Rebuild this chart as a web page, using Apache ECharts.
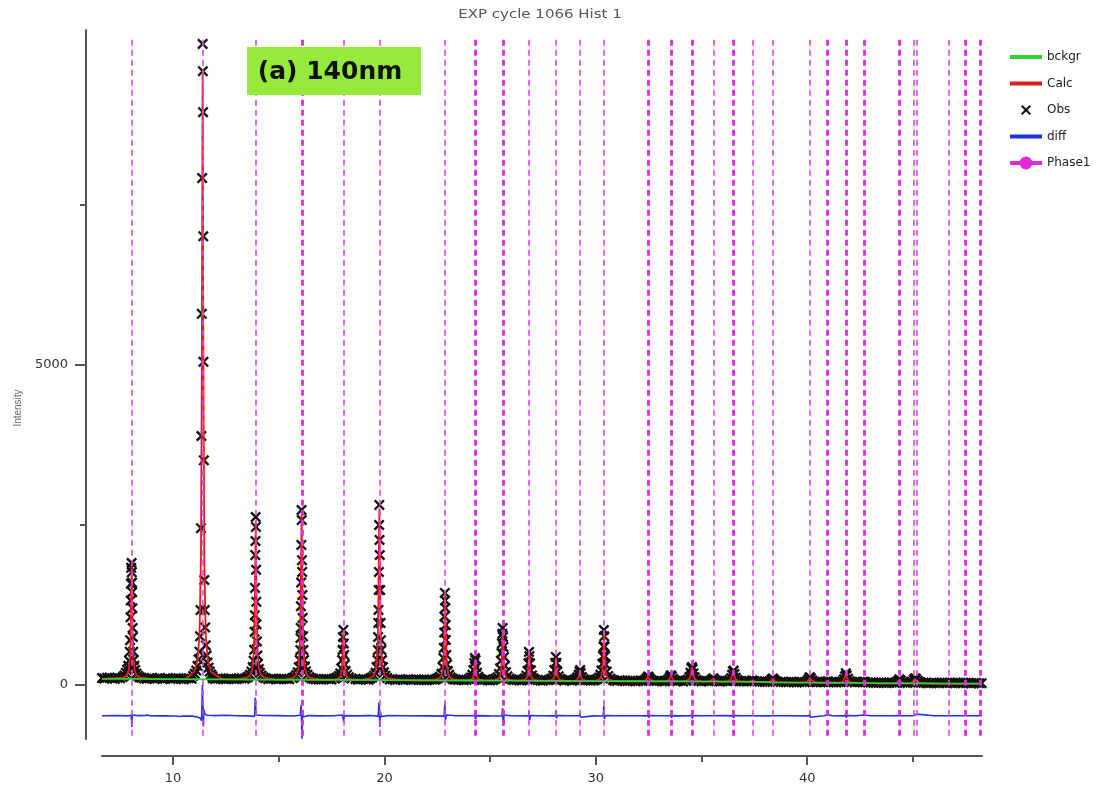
<!DOCTYPE html>
<html><head><meta charset="utf-8">
<script src="https://cdn.jsdelivr.net/npm/echarts@6/dist/echarts.min.js"></script>
<style>html,body{margin:0;padding:0;background:#fff}#c{width:1107px;height:789px}</style>
</head><body><div id="c"></div>
<script>
// ---------------- DATA ----------------
const titleText = 'EXP cycle 1066 Hist 1';
const yAxisTitle = 'Intensity';
const annotationText = '(a) 140nm';
const seriesNames = ['bckgr', 'Calc', 'Obs', 'diff', 'Phase1'];

const xMajorTicks = [10, 20, 30, 40];
const xMinorTicks = [15, 25, 35, 45];
const yMajorTicks = [0, 5000];
const yMinorTicks = [2500, 7500];

// observed points between the peaks  [2theta, counts]
const obsBaseline = [
[6.64,108],[6.75,100],[6.88,113],[7.0,115],[7.13,102],[7.25,97],[7.38,110],[7.5,105],
[8.63,101],[8.75,94],[8.88,106],[9.0,111],[9.13,96],[9.25,101],[9.38,109],[9.5,93],[9.63,100],[9.75,108],[9.88,95],[10.0,98],[10.13,107],[10.25,104],[10.38,94],[10.5,91],[10.63,101],[10.75,105],[10.88,99],
[11.88,104],[12.0,94],[12.13,100],[12.25,103],[12.38,92],[12.5,90],[12.63,99],[12.75,101],[12.88,93],[13.0,92],[13.13,100],[13.25,104],[13.38,96],
[14.5,91],[14.63,97],[14.75,100],[14.88,89],[15.0,88],[15.13,96],[15.25,99],[15.38,93],[15.5,90],
[16.63,97],[16.75,91],[16.88,87],[17.0,84],[17.13,92],[17.25,96],[17.38,90],[17.5,86],
[18.63,92],[18.75,83],[18.88,88],[19.0,93],[19.13,86],[19.25,81],
[20.25,86],[20.38,91],[20.5,78],[20.63,84],[20.75,90],[20.88,80],[21.0,83],[21.13,89],[21.25,77],[21.38,82],[21.5,88],[21.63,84],[21.75,79],[21.88,76],[22.0,75],[22.13,83],[22.25,86],[22.38,80],
[23.38,84],[23.5,77],[23.63,81],[23.75,74],[23.88,80],
[24.63,77],[24.75,82],[24.88,73],[25.0,72],[25.13,78],
[26.13,76],[26.25,79],[26.38,71],[26.5,70],
[27.25,77],[27.38,69],[27.5,68],[27.63,76],[27.75,74],
[28.5,67],[28.63,76],[28.75,73],[28.88,68],
[29.63,73],[29.75,66],[29.88,70],
[30.88,67],[31.0,64],[31.13,73],[31.25,70],[31.38,62],[31.5,61],[31.63,68],[31.75,69],[31.88,59],[32.0,60],[32.13,66],
[32.88,63],[33.0,66],[33.13,57],[33.25,60],
[33.88,61],[34.0,65],[34.13,56],
[35.0,56],[35.13,61],[35.25,64],
[35.88,54],[36.0,57],[36.13,62],
[36.88,58],[37.0,53],[37.13,57],[37.25,62],[37.38,66],[37.5,64],[37.63,58],[37.75,52],[37.88,52],[38.0,48],
[38.75,47],[38.88,52],[39.0,42],[39.13,46],[39.25,51],[39.38,45],[39.5,40],[39.63,47],[39.75,48],
[40.5,45],[40.63,41],[40.75,48],[40.88,52],[41.0,54],[41.13,47],[41.25,42],[41.38,39],[41.5,47],
[42.25,40],[42.38,45],[42.5,48],[42.63,49],[42.75,44],[42.88,39],[43.0,39],[43.13,35],[43.25,32],[43.38,36],[43.5,40],[43.63,33],[43.75,30],[43.88,35],[44.0,38],[44.13,34],[44.25,40],
[44.63,36],[44.75,31],[44.88,38],[45.38,37],[45.5,34],[45.63,29],[45.75,28],[45.88,33],[46.0,37],[46.13,31],[46.25,27],[46.38,32],[46.5,33],[46.63,35],[46.75,38],[46.88,31],[47.0,26],[47.13,30],[47.25,32],[47.38,37],[47.5,34],[47.63,30],[47.75,25],[47.88,29],[48.0,33],[48.13,28],[48.25,29]
];

// observed points on the Bragg peaks  [2theta, counts]
const obsPeakPoints = [
[7.62,125],[7.70,150],[7.77,190],[7.83,240],[7.88,300],[7.92,380],[7.95,520],[7.97,700],[7.99,1060],[8.00,1320],[8.01,1580],[8.02,1830],[8.04,1906],[8.05,1760],[8.06,1600],[8.07,1450],[8.08,1200],[8.09,890],[8.10,750],[8.12,520],[8.14,390],[8.17,300],[8.21,235],[8.27,180],[8.34,145],[8.42,122],[8.50,112],
[10.95,140],[11.03,175],[11.10,225],[11.16,300],[11.21,400],[11.25,520],[11.28,760],[11.30,1170],[11.32,2450],[11.34,3890],[11.36,5800],[11.38,7920],[11.40,10016],[11.41,9590],[11.42,8950],[11.43,7010],[11.44,5050],[11.46,3510],[11.48,1640],[11.50,1170],[11.52,900],[11.55,620],[11.59,460],[11.63,350],[11.68,270],[11.74,210],[11.80,165],[11.86,135],
[13.48,112],[13.56,130],[13.64,160],[13.71,210],[13.77,280],[13.81,380],[13.84,550],[13.86,830],[13.87,1090],[13.88,1516],[13.89,2030],[13.90,2250],[13.91,2625],[13.92,2469],[13.93,1800],[13.94,1300],[13.95,950],[13.97,680],[13.99,460],[14.02,330],[14.06,250],[14.11,190],[14.18,150],[14.27,122],[14.37,106],
[15.66,108],[15.75,125],[15.83,155],[15.90,200],[15.95,280],[15.99,390],[16.02,547],[16.03,734],[16.04,891],[16.05,1230],[16.06,1600],[16.07,2188],[16.08,2734],[16.09,2578],[16.10,1950],[16.11,1766],[16.12,1406],[16.13,1047],[16.15,760],[16.17,547],[16.20,390],[16.24,290],[16.29,215],[16.36,160],[16.45,125],[16.54,105],
[17.65,100],[17.75,115],[17.84,140],[17.91,180],[17.96,260],[18.00,390],[18.02,547],[18.04,750],[18.06,860],[18.08,650],[18.10,470],[18.13,320],[18.17,220],[18.23,160],[18.32,120],[18.44,100],
[19.33,100],[19.42,118],[19.51,145],[19.58,190],[19.63,280],[19.67,390],[19.69,547],[19.70,750],[19.71,969],[19.72,1172],[19.73,1484],[19.74,1766],[19.75,2500],[19.76,2813],[19.77,2266],[19.78,2031],[19.80,1484],[19.82,969],[19.84,700],[19.86,547],[19.89,390],[19.93,280],[19.98,200],[20.05,145],[20.13,110],
[22.45,92],[22.54,106],[22.63,130],[22.70,175],[22.75,281],[22.79,420],[22.81,580],[22.83,820],[22.84,1070],[22.86,1438],[22.87,1320],[22.88,1203],[22.90,938],[22.91,703],[22.93,469],[22.96,320],[23.00,220],[23.06,160],[23.13,120],[23.22,98],[23.30,86],
[24.00,92],[24.09,115],[24.16,160],[24.21,234],[24.25,344],[24.28,420],[24.31,390],[24.34,280],[24.38,190],[24.44,130],[24.51,100],[24.58,86],
[25.17,84],[25.26,98],[25.35,120],[25.42,170],[25.47,260],[25.51,380],[25.54,500],[25.56,650],[25.58,800],[25.59,891],[25.61,750],[25.63,594],[25.66,438],[25.70,300],[25.75,200],[25.82,135],[25.92,100],[26.03,84],
[26.57,86],[26.65,104],[26.72,145],[26.77,220],[26.81,340],[26.84,516],[26.86,450],[26.89,340],[26.93,230],[26.98,150],[27.05,105],[27.13,86],
[27.84,84],[27.92,102],[27.99,145],[28.04,234],[28.08,344],[28.11,438],[28.14,344],[28.18,210],[28.24,135],[28.32,96],[28.41,80],
[28.97,76],[29.06,92],[29.13,120],[29.19,160],[29.23,210],[29.26,234],[29.29,185],[29.34,125],[29.42,92],[29.52,76],
[29.96,76],[30.06,90],[30.15,115],[30.22,160],[30.27,230],[30.31,330],[30.34,450],[30.36,600],[30.38,859],[30.40,760],[30.42,600],[30.44,450],[30.47,320],[30.52,210],[30.59,140],[30.69,100],[30.81,78],
[32.22,66],[32.32,76],[32.40,98],[32.45,120],[32.48,132],[32.51,118],[32.57,92],[32.66,72],[32.76,64],
[33.30,64],[33.40,78],[33.48,108],[33.53,140],[33.56,152],[33.59,138],[33.65,98],[33.74,74],[33.84,62],
[34.27,68],[34.36,86],[34.43,125],[34.48,190],[34.52,262],[34.55,281],[34.58,250],[34.62,180],[34.68,120],[34.76,82],[34.86,64],
[35.34,60],[35.44,72],[35.51,90],[35.56,104],[35.61,88],[35.70,68],[35.80,58],
[36.22,62],[36.32,76],[36.40,106],[36.45,160],[36.49,212],[36.52,225],[36.56,170],[36.62,112],[36.70,78],[36.80,60],
[37.42,70],
[38.12,52],[38.22,60],[38.30,78],[38.35,95],[38.38,100],[38.42,86],[38.50,64],[38.60,50],
[39.88,44],[39.98,56],[40.05,80],[40.10,110],[40.13,122],[40.17,102],[40.24,72],[40.33,52],[40.43,44],
[40.97,56],
[41.58,46],[41.67,58],[41.74,88],[41.79,135],[41.83,182],[41.87,150],[41.93,98],[42.01,62],[42.10,46],
[42.69,50],
[44.20,42],[44.30,64],[44.36,88],[44.42,72],[44.52,46],
[44.95,52],[45.04,82],[45.10,105],[45.16,92],[45.24,62],[45.34,44]
];

// fitted background (green)
const bkgr = [
[6.64,96],[8,94],[10,91],[12,88],[14,85],[16,82],[18,79],[20,76],[22,73],[24,70],[26,67],[28,64],[30,61],[32,58],[34,55],[36,52],[37.8,48],[38.4,40],[40,37],[42,34],[42.8,32],[43.4,26],[45,24],[47,22],[48.27,21]
];

// calculated profile (red)
const calc = [
[6.64,96],
[7.65,115],[7.80,147],[7.90,219],[7.97,450],[8.01,984],[8.04,1874],[8.08,984],[8.12,450],[8.19,219],[8.29,147],[8.45,115],
[9.0,96],[10.0,93],[10.6,98],
[11.00,203],[11.15,374],[11.25,754],[11.32,1989],[11.36,4839],[11.40,9589],[11.44,4839],[11.48,1989],[11.55,754],[11.65,374],[11.80,203],
[12.3,92],[13.0,89],
[13.51,116],[13.66,160],[13.76,260],[13.83,582],[13.87,1326],[13.91,2566],[13.95,1326],[13.99,582],[14.06,260],[14.16,160],[14.31,116],
[14.8,86],[15.3,85],
[15.68,112],[15.83,159],[15.93,263],[16.00,601],[16.04,1381],[16.08,2681],[16.12,1381],[16.16,601],[16.23,263],[16.33,159],[16.48,112],
[17.0,83],[17.4,82],
[17.66,87],[17.81,101],[17.91,131],[17.98,230],[18.02,458],[18.06,838],[18.10,458],[18.14,230],[18.21,131],[18.31,101],[18.46,87],
[18.9,79],
[19.36,108],[19.51,156],[19.61,264],[19.68,612],[19.72,1416],[19.76,2756],[19.80,1416],[19.84,612],[19.91,264],[20.01,156],[20.16,108],
[20.8,76],[21.5,74],[22.1,74],
[22.47,87],[22.62,111],[22.72,164],[22.79,337],[22.83,736],[22.87,1401],[22.91,736],[22.95,337],[23.02,164],[23.12,111],[23.27,87],
[23.6,71],
[23.89,73],[24.04,79],[24.14,93],[24.21,137],[24.25,239],[24.29,409],[24.33,239],[24.37,137],[24.44,93],[24.54,79],[24.69,73],
[24.95,69],
[25.20,77],[25.35,91],[25.45,123],[25.52,227],[25.56,467],[25.60,867],[25.64,467],[25.68,227],[25.75,123],[25.85,91],[26.00,77],
[26.3,67],
[26.45,70],[26.60,78],[26.70,96],[26.77,153],[26.81,285],[26.85,505],[26.89,285],[26.93,153],[27.00,96],[27.10,78],[27.25,70],
[27.45,65],
[27.72,67],[27.87,74],[27.97,88],[28.04,135],[28.08,243],[28.12,423],[28.16,243],[28.20,135],[28.27,88],[28.37,74],[28.52,67],
[28.7,63],
[28.85,64],[29.00,67],[29.10,73],[29.17,94],[29.21,142],[29.25,222],[29.29,142],[29.33,94],[29.40,73],[29.50,67],[29.65,64],
[29.8,62],
[29.99,69],[30.14,83],[30.24,115],[30.31,216],[30.35,450],[30.39,840],[30.43,450],[30.47,216],[30.54,115],[30.64,83],[30.79,69],
[31.2,60],[32.0,58],
[32.23,61],[32.36,72],[32.43,98],[32.48,132],[32.53,98],[32.60,72],[32.73,61],
[33.1,57],
[33.31,61],[33.44,75],[33.51,108],[33.56,151],[33.61,108],[33.68,75],[33.81,61],
[34.05,55],
[34.30,66],[34.43,100],[34.50,181],[34.55,284],[34.60,181],[34.67,100],[34.80,66],
[35.1,54],
[35.31,56],[35.44,63],[35.51,81],[35.56,103],[35.61,81],[35.68,63],[35.81,56],
[36.05,52],
[36.25,61],[36.38,87],[36.45,148],[36.50,227],[36.55,148],[36.62,87],[36.75,61],
[37.1,51],
[37.30,52],[37.37,62],[37.42,72],[37.47,62],[37.54,52],
[37.8,48],[38.05,44],
[38.12,44],[38.25,53],[38.32,73],[38.37,99],[38.42,73],[38.49,52],[38.62,43],
[39.0,40],[39.7,38],
[39.88,41],[40.01,53],[40.08,82],[40.13,119],[40.18,82],[40.25,53],[40.38,41],
[40.7,36],
[40.85,37],[40.92,45],[40.97,54],[41.02,45],[41.09,37],
[41.4,35],
[41.58,41],[41.71,63],[41.78,114],[41.83,179],[41.88,114],[41.95,63],[42.08,41],
[42.35,33],
[42.57,34],[42.64,41],[42.69,48],[42.74,41],[42.81,33],
[43.4,26],[44.0,25],
[44.11,28],[44.24,37],[44.31,58],[44.36,85],[44.41,58],[44.48,37],[44.61,28],
[44.75,25],
[44.85,28],[44.98,39],[45.05,65],[45.10,99],[45.15,65],[45.22,39],[45.35,28],
[46.0,23],[47.0,22],[48.27,21]
];

// difference curve (obs - calc, plotted with its offset)
const diff = [
[6.64,-480],[7.3,-476],[7.9,-482],[8.02,-472],[8.04,-560],[8.05,-656],[8.07,-470],[8.10,-466],[8.3,-478],[8.7,-476],[8.8,-468],[8.9,-480],[9.5,-482],[10.1,-484],[10.3,-492],[10.5,-484],[10.9,-486],
[11.15,-500],[11.30,-520],[11.35,-560],[11.37,-300],[11.39,0],[11.40,-200],[11.42,-300],[11.44,-650],[11.46,-380],[11.50,-450],[11.6,-472],[11.9,-478],[12.5,-474],[13.0,-480],[13.5,-482],
[13.86,-490],[13.89,-200],[13.91,-340],[13.94,-470],[14.2,-476],[15.0,-478],[15.7,-484],
[16.02,-472],[16.06,-310],[16.08,-540],[16.10,-840],[16.12,-420],[16.16,-500],[16.4,-478],[17.0,-482],[17.6,-480],
[18.03,-470],[18.05,-440],[18.07,-575],[18.10,-478],[18.6,-482],[19.3,-478],
[19.71,-486],[19.74,-280],[19.76,-360],[19.78,-656],[19.81,-430],[19.86,-495],[20.2,-478],[21.0,-480],[22.0,-482],
[22.82,-486],[22.86,-280],[22.89,-547],[22.93,-468],[23.3,-478],[24.0,-480],
[24.26,-476],[24.28,-420],[24.31,-535],[24.35,-478],[25.0,-482],
[25.56,-484],[25.59,-360],[25.62,-640],[25.66,-468],[26.0,-480],
[26.82,-482],[26.84,-390],[26.87,-550],[26.91,-478],[27.4,-480],
[28.09,-482],[28.11,-390],[28.14,-520],[28.18,-478],[28.8,-480],
[29.23,-478],[29.25,-440],[29.28,-505],[29.32,-480],[29.9,-482],
[30.35,-484],[30.38,-328],[30.41,-530],[30.45,-476],[31.0,-480],[32.0,-480],
[32.45,-482],[32.47,-445],[32.50,-510],[32.54,-478],[33.0,-480],
[33.53,-480],[33.55,-440],[33.58,-515],[33.62,-478],[34.0,-482],
[34.52,-480],[34.54,-425],[34.57,-525],[34.61,-478],[35.1,-480],
[35.54,-480],[35.56,-450],[35.59,-505],[35.63,-480],[36.1,-478],
[36.47,-482],[36.49,-435],[36.52,-515],[36.56,-478],[37.0,-480],
[37.41,-480],[37.43,-460],[37.46,-495],[37.5,-480],[38.0,-482],
[38.35,-480],[38.37,-450],[38.40,-505],[38.44,-478],[39.2,-480],
[40.10,-482],[40.12,-448],[40.15,-505],[40.19,-478],[40.8,-480],
[40.96,-465],[40.99,-495],[41.2,-480],
[41.80,-482],[41.82,-437],[41.85,-510],[41.90,-476],[42.3,-480],
[42.68,-470],[42.71,-492],[43.0,-480],[44.0,-481],
[44.34,-478],[44.36,-455],[44.39,-497],[44.45,-480],
[45.05,-478],[45.08,-450],[45.12,-480],[45.18,-455],[45.24,-480],[46.0,-480],
[46.70,-480],[46.72,-468],[46.75,-488],[46.8,-480],
[47.44,-480],[47.46,-470],[47.49,-488],[47.55,-480],[48.0,-481],[48.17,-478],[48.27,-480]
];

// Phase1 reflection positions (2theta) and how many reflections coincide there
const reflections = [8.05,11.39,13.91,16.09,18.06,19.76,22.87,24.29,25.60,26.85,28.12,29.25,30.39,32.48,33.56,34.55,35.56,36.50,37.42,38.37,40.13,40.97,41.83,42.69,44.36,45.05,45.16,46.72,47.46,48.17];
const reflectionCount = [1,1,1,2,1,1,1,2,2,1,1,1,1,2,2,2,1,2,1,1,1,2,2,2,2,1,1,1,2,2];

// ---------------- CHART ----------------
const X_MIN = 6.64, X_MAX = 48.27;
const Y_MIN = -844, Y_MAX = 10234;
const REF_TOP = 10080, REF_BOTTOM = -840;

const FONT = 'DejaVu Sans';
const AXIS_COLOR = '#555555';
const MAGENTA = '#e22ae2';
const MAGENTA_THIN = '#dc48e2';

const lineIcon = 'path://M0,0h0.01v0.01h-0.01zM0,5h32v4h-32zM31.99,13.99h0.01v0.01h-0.01z';
const obsIcon = 'path://M0,0h0.01v0.01h-0.01zM11,3.5L12.5,2L16,5.5L19.5,2L21,3.5L17.5,7L21,10.5L19.5,12L16,8.5L12.5,12L11,10.5L14.5,7ZM31.99,13.99h0.01v0.01h-0.01z';
const phaseIcon = 'path://M0,0h0.01v0.01h-0.01zM0,5h32v4h-32zM9.5,7a6.5,6.5 0 1,1 13,0a6.5,6.5 0 1,1 -13,0zM31.99,13.99h0.01v0.01h-0.01z';
const xSymbol = 'path://M0,1.5L1.5,0L5,3.5L8.5,0L10,1.5L6.5,5L10,8.5L8.5,10L5,6.5L1.5,10L0,8.5L3.5,5Z';

const chart = echarts.init(document.getElementById('c'), null, {renderer: 'canvas'});

const refLines = reflections.map((v, i) => [
  {coord: [v, REF_TOP], lineStyle: reflectionCount[i] > 1 ? {width: 2.8, color: MAGENTA} : {width: 1.6, color: MAGENTA_THIN}},
  {coord: [v, REF_BOTTOM]}
]);

const baseX = {
  type: 'value', min: X_MIN, max: X_MAX, position: 'bottom', offset: 17,
  splitLine: {show: false}
};
const baseY = {
  type: 'value', min: Y_MIN, max: Y_MAX, position: 'left', offset: 16,
  splitLine: {show: false}
};
const plainNumber = v => String(v);

chart.setOption({
  animation: false,
  backgroundColor: '#ffffff',
  grid: {left: 102, right: 125, top: 30, bottom: 50, containLabel: false},
  xAxis: [
    Object.assign({}, baseX, {
      axisLine: {show: true, onZero: false, lineStyle: {color: AXIS_COLOR, width: 2}},
      axisTick: {show: true, customValues: xMajorTicks, length: 9, lineStyle: {color: AXIS_COLOR, width: 2}},
      axisLabel: {show: true, customValues: xMajorTicks, formatter: plainNumber, margin: 16, color: '#333', fontFamily: FONT, fontSize: 13}
    }),
    Object.assign({}, baseX, {
      axisLine: {show: false, onZero: false},
      axisTick: {show: true, customValues: xMinorTicks, length: 6, lineStyle: {color: AXIS_COLOR, width: 2}},
      axisLabel: {show: false}
    })
  ],
  yAxis: [
    Object.assign({}, baseY, {
      axisLine: {show: true, onZero: false, lineStyle: {color: AXIS_COLOR, width: 2}},
      axisTick: {show: true, customValues: yMajorTicks, length: 11, lineStyle: {color: AXIS_COLOR, width: 2}},
      axisLabel: {show: true, customValues: yMajorTicks, formatter: plainNumber, margin: 18, color: '#333', fontFamily: FONT, fontSize: 13}
    }),
    Object.assign({}, baseY, {
      axisLine: {show: false, onZero: false},
      axisTick: {show: true, customValues: yMinorTicks, length: 6, lineStyle: {color: AXIS_COLOR, width: 2}},
      axisLabel: {show: false}
    })
  ],
  legend: {
    orient: 'vertical', left: 1005, top: 45,
    itemWidth: 32, itemHeight: 14, itemGap: 12.5,
    selectedMode: false,
    itemStyle: {borderWidth: 0},
    textStyle: {fontFamily: FONT, fontSize: 12, color: '#222', lineHeight: 14},
    data: [
      {name: seriesNames[0], icon: lineIcon},
      {name: seriesNames[1], icon: lineIcon},
      {name: seriesNames[2], icon: obsIcon},
      {name: seriesNames[3], icon: lineIcon},
      {name: seriesNames[4], icon: phaseIcon}
    ]
  },
  graphic: [
    {type: 'text', x: 540, y: 15, scaleX: 1.25, silent: true,
     style: {text: titleText, fill: '#555', font: '12px "DejaVu Sans"', align: 'center', verticalAlign: 'middle'}},
    {type: 'text', x: 18, y: 408, rotation: Math.PI / 2, silent: true,
     style: {text: yAxisTitle, fill: '#666', font: '10px "Liberation Sans"', align: 'center', verticalAlign: 'middle'}},
    {type: 'rect', shape: {x: 247, y: 47, width: 174, height: 48}, z: 100, silent: true,
     style: {fill: '#96ea3b'}},
    {type: 'text', x: 330, y: 72, z: 101, silent: true,
     style: {text: annotationText, fill: '#111', font: 'bold 25px "DejaVu Sans"', align: 'center', verticalAlign: 'middle'}}
  ],
  series: [
    {
      name: seriesNames[4], type: 'line', data: [], z: 1,
      itemStyle: {color: MAGENTA}, lineStyle: {color: MAGENTA},
      markLine: {
        silent: true, symbol: ['none', 'none'], label: {show: false},
        lineStyle: {color: MAGENTA, type: [6, 4], width: 1.7},
        emphasis: {disabled: true},
        data: refLines
      }
    },
    {
      name: seriesNames[2], type: 'scatter', z: 2, large: false,
      symbol: xSymbol, symbolSize: 11,
      itemStyle: {color: '#111111', opacity: 1},
      data: obsBaseline.concat(obsPeakPoints)
    },
    {
      name: seriesNames[1], type: 'line', z: 3, data: calc,
      symbol: 'none', showSymbol: false,
      itemStyle: {color: '#e41c1c'}, lineStyle: {color: '#e41c1c', width: 1.8}
    },
    {
      name: seriesNames[3], type: 'line', z: 3, data: diff,
      symbol: 'none', showSymbol: false,
      itemStyle: {color: '#2233dd'}, lineStyle: {color: '#2233dd', width: 1.6}
    },
    {
      name: seriesNames[0], type: 'line', z: 4, data: bkgr,
      symbol: 'none', showSymbol: false,
      itemStyle: {color: '#2fd12f'}, lineStyle: {color: '#2fd12f', width: 1.8}
    }
  ]
});
</script></body></html>
